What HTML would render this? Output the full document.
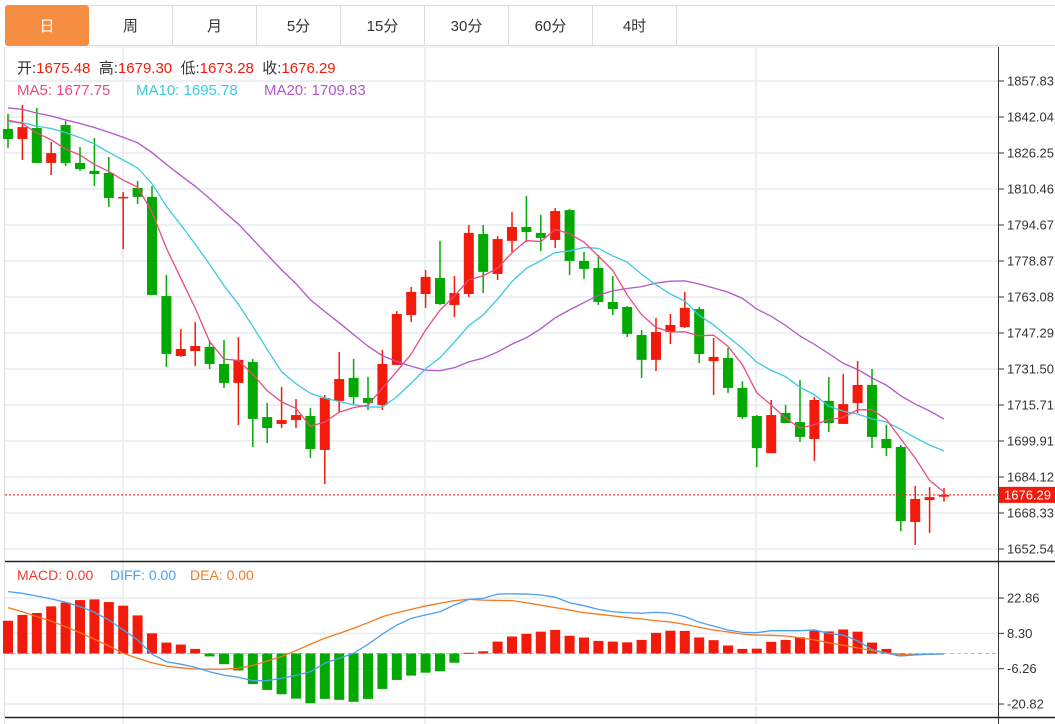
<!DOCTYPE html>
<html><head><meta charset="utf-8"><style>
body{margin:0;background:#fff;font-family:"Liberation Sans","Noto Sans CJK SC",sans-serif;}
#wrap{position:relative;width:1055px;height:724px;overflow:hidden;}
.tab{position:absolute;top:5px;height:41px;line-height:41px;text-align:center;font-size:15px;color:#333;box-sizing:border-box;border:1px solid #ddd;border-left:none;background:#fff;}
</style></head><body>
<div id="wrap">
<div class="tab" style="left:5px;width:84px;background:#f58d42;color:#fff;border:1px solid #f58d42;border-radius:3px;">日</div>
<div class="tab" style="left:89px;width:84px;">周</div>
<div class="tab" style="left:173px;width:84px;">月</div>
<div class="tab" style="left:257px;width:84px;">5分</div>
<div class="tab" style="left:341px;width:84px;">15分</div>
<div class="tab" style="left:425px;width:84px;">30分</div>
<div class="tab" style="left:509px;width:84px;">60分</div>
<div class="tab" style="left:593px;width:84px;">4时</div>
<div class="tab" style="left:677px;width:378px;border-right:none;"></div>
<svg id="svg" width="1055" height="724" style="position:absolute;left:0;top:0" font-family="Liberation Sans, Noto Sans CJK SC, sans-serif"></svg>
</div>
<script>
const opens=[1836.8,1832.4,1837.2,1821.9,1838.5,1821.9,1818.4,1817.5,1806.5,1810.9,1807.0,1763.5,1737.2,1739.4,1741.2,1733.7,1725.4,1734.6,1710.4,1707.4,1709.1,1710.9,1696.0,1717.5,1727.6,1718.8,1715.7,1733.3,1755.2,1764.4,1771.4,1759.6,1764.4,1790.7,1773.2,1787.7,1793.8,1791.2,1788.1,1801.2,1778.9,1775.8,1760.9,1758.7,1746.4,1735.5,1747.7,1749.9,1757.8,1735.0,1736.3,1723.2,1710.9,1694.6,1712.2,1708.2,1700.8,1717.5,1707.4,1716.6,1724.5,1700.8,1697.3,1664.4,1674.0,1675.48];
const highs=[1843.4,1847.3,1846.0,1831.1,1840.3,1828.9,1832.8,1824.5,1809.1,1814.0,1811.8,1772.7,1749.0,1752.1,1744.2,1744.2,1745.5,1735.9,1716.6,1723.6,1718.3,1714.4,1720.1,1739.0,1735.9,1728.0,1739.8,1756.9,1767.5,1774.9,1787.7,1772.3,1794.7,1794.7,1789.8,1800.4,1807.4,1799.1,1802.1,1801.7,1782.8,1781.5,1772.3,1759.1,1748.6,1753.9,1755.6,1765.3,1758.7,1745.1,1740.7,1726.2,1711.3,1717.9,1715.7,1726.7,1719.2,1728.0,1729.3,1735.0,1731.5,1707.0,1698.2,1680.2,1679.7,1679.30];
const lows=[1828.4,1823.2,1821.9,1816.6,1820.5,1818.4,1811.8,1802.6,1784.1,1803.9,1764.0,1732.4,1736.8,1732.8,1731.5,1723.2,1706.9,1697.3,1699.0,1705.6,1705.6,1692.5,1681.1,1712.6,1715.7,1713.5,1713.5,1733.3,1752.1,1758.3,1759.6,1754.3,1763.1,1764.8,1770.5,1782.8,1787.2,1783.3,1784.6,1772.7,1771.0,1759.6,1755.2,1745.5,1727.6,1730.6,1742.5,1749.5,1734.1,1720.1,1721.0,1709.6,1688.5,1694.6,1707.8,1699.5,1691.1,1703.9,1707.4,1712.2,1696.8,1693.3,1660.4,1654.3,1659.6,1673.28];
const closes=[1832.4,1837.6,1821.9,1826.2,1821.9,1819.2,1817.0,1806.5,1807.0,1807.0,1764.0,1738.1,1740.3,1741.6,1733.7,1725.4,1735.5,1709.6,1705.6,1709.1,1711.3,1696.4,1718.8,1727.1,1719.2,1716.6,1733.7,1755.6,1765.3,1771.9,1760.0,1764.8,1791.2,1774.1,1788.5,1793.8,1791.6,1789.0,1800.8,1778.9,1775.4,1760.9,1757.8,1746.9,1735.5,1747.7,1750.8,1758.3,1738.1,1736.8,1723.2,1710.4,1696.8,1711.3,1707.8,1701.7,1717.9,1707.8,1716.1,1724.5,1701.7,1696.8,1664.8,1674.5,1675.3,1676.29];
const priorCloses=[1850,1855,1852,1856,1850,1853,1848,1851,1854,1851,1842,1838,1836,1840,1841,1845,1843,1841,1842];
const macdHist=[13.5,15.9,16.7,19.4,21.0,22.0,22.3,21.2,19.7,15.7,8.3,4.5,3.7,1.9,-1.2,-4.4,-7.0,-12.6,-15.0,-16.8,-18.6,-20.5,-18.7,-19.1,-19.9,-18.7,-14.6,-10.9,-9.1,-7.9,-7.3,-3.8,0.3,0.9,4.9,7.0,8.1,9.0,9.7,7.3,6.6,5.2,4.9,4.6,5.6,8.5,9.4,9.3,6.6,5.5,3.3,1.9,2.0,4.8,5.6,6.7,9.4,9.1,9.9,9.0,4.5,1.9,-1.1,0,0,0];
const diffVals=[25.5,24.8,23.7,22.5,21.1,19.3,17.0,13.8,9.7,5.6,-0.3,-3.4,-4.4,-5.7,-7.5,-8.9,-9.8,-11.2,-11.2,-10.2,-9.0,-7.5,-4.0,-2.0,0.1,3.8,8.0,11.7,14.5,15.9,17.2,20.0,22.3,22.7,24.5,24.6,24.5,24.1,23.2,20.9,19.7,18.2,17.2,16.8,16.6,17.0,16.6,15.2,12.9,11.3,9.7,8.7,8.6,9.4,9.4,9.4,9.7,8.3,7.6,5.2,1.7,0.1,-1.0,-0.6,-0.3,-0.2];
const deaVals=[18.9,17.2,15.2,13.4,11.0,8.6,5.9,3.1,0.1,-2.0,-3.8,-5.2,-5.9,-6.4,-6.5,-6.5,-6.1,-4.9,-3.1,-1.3,1.2,3.8,6.3,8.3,10.4,12.7,15.2,16.8,18.2,19.6,20.7,21.8,22.3,22.0,21.9,21.8,20.9,19.9,18.9,17.9,16.8,16.2,15.5,14.8,14.2,13.5,13.0,12.0,10.8,9.7,8.9,8.0,7.6,7.5,7.2,6.5,5.6,4.4,3.4,2.3,1.2,0.2,-0.5,-0.3,-0.2,-0.2];
const priceTicks=[1857.83,1842.04,1826.25,1810.46,1794.67,1778.87,1763.08,1747.29,1731.50,1715.71,1699.91,1684.12,1668.33,1652.54];
const macdTicks=[22.86,8.30,-6.26,-20.82];

const NS='http://www.w3.org/2000/svg';
const svg=document.getElementById('svg');
function mk(tag,attrs,parent){const e=document.createElementNS(NS,tag);for(const k in attrs)e.setAttribute(k,attrs[k]);(parent||svg).appendChild(e);return e;}
const RED='#f21a0a',GREEN='#03a803';
const X=i=>8+i*14.4;
const Y=p=>81+(1857.83-p)*2.2797;
const MY=v=>653.5-v*2.427;

// grid
const grid=mk('g',{});


priceTicks.forEach(t=>{mk('line',{x1:5,x2:998,y1:Y(t),y2:Y(t),stroke:'#e6ecf2','stroke-width':1.5},grid);});
macdTicks.forEach(t=>{mk('line',{x1:5,x2:998,y1:MY(t),y2:MY(t),stroke:'#e6ecf2','stroke-width':1.5},grid);});
[123,425,756].forEach(x=>{mk('line',{x1:x,x2:x,y1:47,y2:724,stroke:'#e6ecf2','stroke-width':1.5},grid);});
mk('line',{x1:5,x2:998,y1:47,y2:47,stroke:'#e6ecf2'},grid);
// frame
mk('line',{x1:4.5,x2:4.5,y1:47,y2:724,stroke:'#ddd'});
mk('line',{x1:998.5,x2:998.5,y1:47,y2:724,stroke:'#333'});
mk('line',{x1:5,x2:1055,y1:561.5,y2:561.5,stroke:'#222','stroke-width':1.5});
mk('line',{x1:5,x2:1055,y1:717.5,y2:717.5,stroke:'#222','stroke-width':1.5});

// price axis
const ax=mk('g',{});


priceTicks.forEach(t=>{const y=Y(t);mk('line',{x1:999,x2:1004,y1:y,y2:y,stroke:'#333'},ax);const tx=mk('text',{x:1007,y:y+4.5,'font-size':13,fill:'#333'},ax);tx.textContent=t.toFixed(2);});
const max=mk('g',{});


macdTicks.forEach(t=>{const y=MY(t);mk('line',{x1:999,x2:1004,y1:y,y2:y,stroke:'#333'},max);const tx=mk('text',{x:1007,y:y+4.5,'font-size':13,fill:'#333'},max);tx.textContent=t.toFixed(2);});

// MA lines
const all=priorCloses.concat(closes);
function ma(n){return closes.map((c,i)=>{const j=i+priorCloses.length;let s=0;for(let k=j-n+1;k<=j;k++)s+=all[k];return s/n;});}
function line(vals,color,name,fy){const p=mk('polyline',{points:vals.map((v,i)=>X(i)+','+fy(v)).join(' '),fill:'none',stroke:color,'stroke-width':1.3});return p;}

// candles
const cg=mk('g',{});


closes.forEach((c,i)=>{const o=opens[i];const col=c>=o?RED:GREEN;const x=X(i);
 const g=mk('g',{},cg);
 
 
 mk('line',{x1:x,x2:x,y1:Y(highs[i]),y2:Y(lows[i]),stroke:col,'stroke-width':1.5},g);
 const top=Y(Math.max(o,c)),bot=Y(Math.min(o,c));
 mk('rect',{x:x-5,y:top,width:10,height:Math.max(bot-top,1.5),fill:col},g);});
line(ma(20),'#b256c8','ma20-line',Y);
line(ma(10),'#3cc8e2','ma10-line',Y);
line(ma(5),'#ec4a7c','ma5-line',Y);

// current price
const cp=closes[closes.length-1];
const cpl=mk('line',{x1:5,x2:998,y1:Y(cp),y2:Y(cp),stroke:'#f03c30','stroke-dasharray':'2,2','stroke-width':1.2});


const cpb=mk('rect',{x:999,y:Y(cp)-8,width:56,height:16,fill:'#f21a0a'});


const cpt=mk('text',{x:1004,y:Y(cp)+4.5,'font-size':13,fill:'#fff'});cpt.textContent=cp.toFixed(2);

// MACD
const zl=mk('line',{x1:5,x2:998,y1:MY(0),y2:MY(0),stroke:'#9cc8e8','stroke-dasharray':'4,3'});


const hg=mk('g',{});


macdHist.forEach((v,i)=>{if(v===0)return;const y0=MY(0),y1=MY(v);const r=mk('rect',{x:X(i)-5,y:Math.min(y0,y1),width:10,height:Math.max(Math.abs(y1-y0),1),fill:v>0?RED:GREEN},hg);});
line(deaVals,'#f5781e','dea-line',MY);
line(diffVals,'#4ba0f0','diff-line',MY);

// legends
function txt(x,y,s,col,size,name){const t=mk('text',{x:x,y:y,'font-size':size,fill:col});t.textContent=s;if(name){}return t;}
const L1=[['开:','#333'],['1675.48',RED],['  高:','#333'],['1679.30',RED],['  低:','#333'],['1673.28',RED],['  收:','#333'],['1676.29',RED]];
const t1=mk('text',{x:17,y:73,'font-size':15,'xml:space':'preserve'});
L1.forEach(([s,c])=>{const ts=mk('tspan',{fill:c},t1);ts.textContent=s;});
t1.setAttribute('style','white-space:pre');
txt(17,95,'MA5: 1677.75','#ec4a7c',15,'ma5-legend');
txt(136,95,'MA10: 1695.78','#3cc8e2',15,'ma10-legend');
txt(264,95,'MA20: 1709.83','#b256c8',15,'ma20-legend');
txt(17,580,'MACD: 0.00','#f03c30',14,'macd-legend');
txt(110,580,'DIFF: 0.00','#4ba0f0',14,'diff-legend');
txt(190,580,'DEA: 0.00','#f5781e',14,'dea-legend');
</script>
</body></html>
